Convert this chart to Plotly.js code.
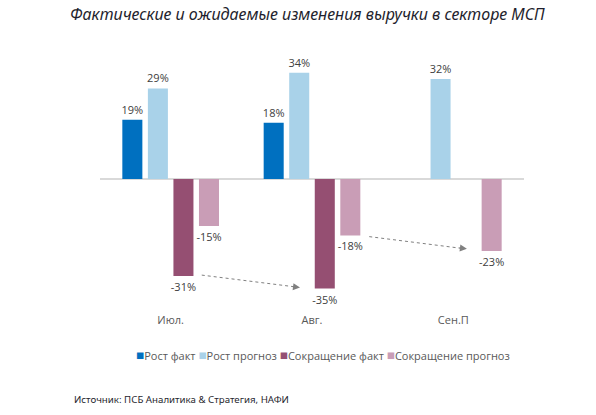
<!DOCTYPE html>
<html>
<head>
<meta charset="utf-8">
<script src="https://cdn.plot.ly/plotly-3.0.1.min.js"></script>
<style>html,body{margin:0;padding:0;background:#fff}#chart{width:596px;height:415px}</style>
</head>
<body>
<div id="chart"></div>
<script>
const categories = ['Июл.', 'Авг.', 'Сен.П'];
const seriesNames = ['Рост факт', 'Рост прогноз', 'Сокращение факт', 'Сокращение прогноз'];
const rostFakt = [19, 18, null];
const rostPrognoz = [29, 34, 32];
const sokrFakt = [-31, -35, null];
const sokrPrognoz = [-15, -18, -23];
const seriesValues = [rostFakt, rostPrognoz, sokrFakt, sokrPrognoz];
const seriesColors = ['#0070C0', '#A9D2E9', '#954F72', '#C99DB6'];

const labelFont = {family: 'Open Sans, Noto Sans, sans-serif', size: 11, color: '#404040'};

const traces = seriesValues.map((vals, i) => ({
  type: 'bar',
  name: seriesNames[i],
  x: categories,
  y: vals,
  marker: {color: seriesColors[i]},
  text: vals.map(v => (v === null ? '' : String(v) + '%')),
  textposition: 'outside',
  textfont: labelFont,
  constraintext: 'none',
  cliponaxis: false,
  hoverinfo: 'skip',
  showlegend: false
}));

const legendText = seriesNames.map((n, i) =>
  '<span style="color:' + seriesColors[i] + ';font-size:13.5px">■</span>' + n).join(' ');

const arrowStyle = {line: {color: '#808080', width: 1, dash: 'dot'}};

const layout = {
  width: 596,
  height: 415,
  margin: {l: 100, r: 72, t: 54, b: 103},
  paper_bgcolor: '#ffffff',
  plot_bgcolor: '#ffffff',
  barmode: 'group',
  bargap: 0.277,
  bargroupgap: 0.216,
  title: {
    text: '<i>Фактические и ожидаемые изменения выручки в секторе МСП</i>',
    font: {family: 'Noto Sans, sans-serif', size: 16, color: '#1f1f2e'},
    x: 0.489, xref: 'paper', xanchor: 'center',
    y: 0.966, yref: 'container', yanchor: 'middle'
  },
  xaxis: {
    type: 'category',
    showgrid: false, showline: false, ticks: '',
    tickfont: {family: 'Open Sans, Noto Sans, sans-serif', size: 11, color: '#595959'},
    fixedrange: true
  },
  yaxis: {
    range: [-42.5, 40],
    showgrid: false, showticklabels: false, ticks: '',
    zeroline: true, zerolinecolor: '#D9D9D9', zerolinewidth: 1.5,
    fixedrange: true
  },
  shapes: [
    Object.assign({type: 'line', xref: 'x', yref: 'y', x0: 0.22, y0: -30.7, x1: 0.87, y1: -34.4}, arrowStyle),
    Object.assign({type: 'line', xref: 'x', yref: 'y', x0: 1.405, y0: -18.4, x1: 2.05, y1: -22.1}, arrowStyle)
  ],
  annotations: [
    {xref: 'x', yref: 'y', x: 0.915, y: -34.7, ax: -9, ay: -1.2, axref: 'pixel', ayref: 'pixel',
     text: '', showarrow: true, arrowhead: 2, arrowsize: 1.4, arrowwidth: 1, arrowcolor: '#808080'},
    {xref: 'x', yref: 'y', x: 2.096, y: -22.3, ax: -9, ay: -1.1, axref: 'pixel', ayref: 'pixel',
     text: '', showarrow: true, arrowhead: 2, arrowsize: 1.4, arrowwidth: 1, arrowcolor: '#808080'},
    {xref: 'paper', yref: 'paper', x: 0.527, y: -0.165, xanchor: 'center', yanchor: 'middle',
     text: legendText, showarrow: false,
     font: {family: 'Open Sans, Noto Sans, sans-serif', size: 11, color: '#595959'}},
    {xref: 'paper', yref: 'paper', x: -0.067, y: -0.341, xanchor: 'left', yanchor: 'middle',
     text: 'Источник: ПСБ Аналитика & Стратегия, НАФИ', showarrow: false,
     font: {family: 'Noto Sans, sans-serif', size: 9.7, color: '#1f1f2e'}}
  ]
};

Plotly.newPlot('chart', traces, layout, {staticPlot: true, displayModeBar: false});
</script>
</body>
</html>
